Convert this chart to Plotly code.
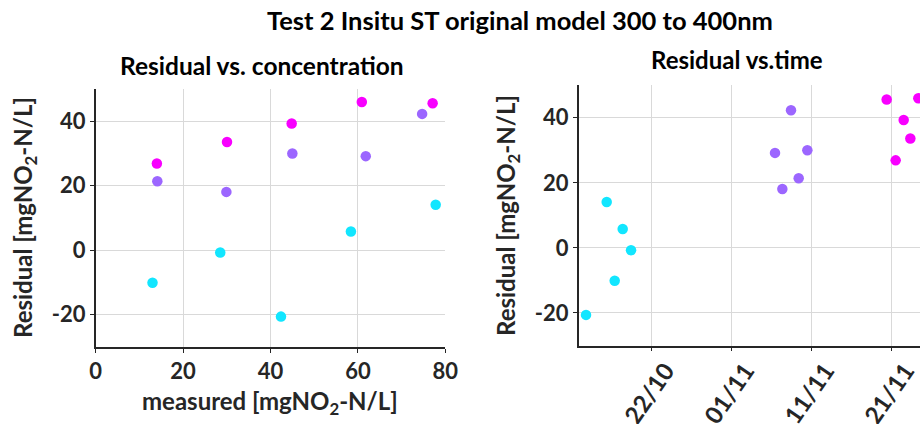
import plotly.graph_objects as go

# ---- data ----
groups = ["cyan"] * 5 + ["purple"] * 5 + ["magenta"] * 5
measured = [13.0, 28.5, 42.4, 58.4, 77.8,
            14.1, 29.9, 45.0, 61.8, 74.7,
            14.0, 30.05, 44.85, 60.9, 77.1]
residual = [-10.1, -0.7, -20.6, 5.8, 14.1,
            21.4, 18.1, 30.0, 29.2, 42.3,
            26.9, 33.6, 39.3, 46.0, 45.6]
sample_time = ["2023-10-17 09:00", "2023-10-19 10:00", "2023-10-13 19:00", "2023-10-18 09:00", "2023-10-16 09:00",
               "2023-11-09 09:00", "2023-11-07 08:00", "2023-11-10 11:00", "2023-11-06 10:00", "2023-11-08 10:00",
               "2023-11-21 12:00", "2023-11-23 08:00", "2023-11-22 12:00", "2023-11-24 08:00", "2023-11-20 09:00"]
group_colors = {"cyan": "#12E6FF", "purple": "#9C66FF", "magenta": "#F800FF"}
date_ticks = ["2023-10-22", "2023-11-01", "2023-11-11", "2023-11-21"]
date_ticklabels = ["22/10", "01/11", "11/11", "21/11"]
conc_ticks = [0, 20, 40, 60, 80]
conc_ticklabels = ["0", "20", "40", "60", "80"]
res_ticks = [-20, 0, 20, 40]
res_ticklabels = ["-20", "0", "20", "40"]

colors = [group_colors[g] for g in groups]
FONT = "Lato"
W, H = 920, 424
TXT = "#262626"

fig = go.Figure()
fig.add_trace(go.Scatter(x=measured, y=residual, mode="markers",
                         marker=dict(color=colors, size=10.5, line=dict(width=0)),
                         xaxis="x", yaxis="y", showlegend=False))
fig.add_trace(go.Scatter(x=sample_time, y=residual, mode="markers",
                         marker=dict(color=colors, size=10.5, line=dict(width=0)),
                         xaxis="x2", yaxis="y2", showlegend=False))

axcommon = dict(showgrid=True, gridcolor="#D9D9D9", gridwidth=1, zeroline=False,
                showline=True, linecolor=TXT, linewidth=1.5, automargin=False,
                ticks="outside", ticklen=4, tickcolor=TXT,
                tickfont=dict(family=FONT, size=22, color=TXT, weight="bold"))
ytitle = "Residual [mgNO<sub>2</sub>-N/L]"
xtitle = "measured [mgNO<sub>2</sub>-N/L]"

def ann(text, x, y, size, angle=0, color="black"):
    return dict(text=text, x=x / W, y=1 - y / H, xref="paper", yref="paper",
                showarrow=False, xanchor="center", yanchor="middle", textangle=angle,
                font=dict(family=FONT, size=size, weight="bold", color=color))

fig.update_layout(
    width=W, height=H,
    margin=dict(l=0, r=0, t=0, b=0),
    plot_bgcolor="white", paper_bgcolor="white",
    font=dict(family=FONT, color=TXT),
    xaxis=dict(axcommon, domain=[95.7 / W, 445.3 / W], range=[0, 80],
               tickvals=conc_ticks, ticktext=conc_ticklabels, anchor="y"),
    yaxis=dict(axcommon, domain=[(H - 346.9) / H, (H - 89.1) / H], range=[-30, 50],
               tickvals=res_ticks, ticktext=res_ticklabels, anchor="x"),
    xaxis2=dict(axcommon, domain=[578.7 / W, 1.0], type="date",
                range=["2023-10-12 21:00", "2023-11-24 13:00"],
                tickvals=date_ticks, ticktext=date_ticklabels, tickangle=-55,
                tickfont=dict(family=FONT, size=24, color=TXT, weight="bold"),
                ticklabelshift=14, ticklabelstandoff=-4,
                anchor="y2"),
    yaxis2=dict(axcommon, domain=[(H - 345.5) / H, (H - 85.2) / H], range=[-30, 50],
                tickvals=res_ticks, ticktext=res_ticklabels, anchor="x2"),
    annotations=[
        ann("Test 2 Insitu ST original model 300 to 400nm", 520, 20, 25.5),
        ann("Residual vs. concentration", 262, 65, 24.5),
        ann("Residual vs.time", 737, 60, 24),
        ann(xtitle, 270, 402, 24, color=TXT),
        ann(ytitle, 24, 218, 24, angle=-90, color=TXT),
        ann(ytitle, 507, 216, 24, angle=-90, color=TXT),
    ],
)

fig.write_html("out.html")
